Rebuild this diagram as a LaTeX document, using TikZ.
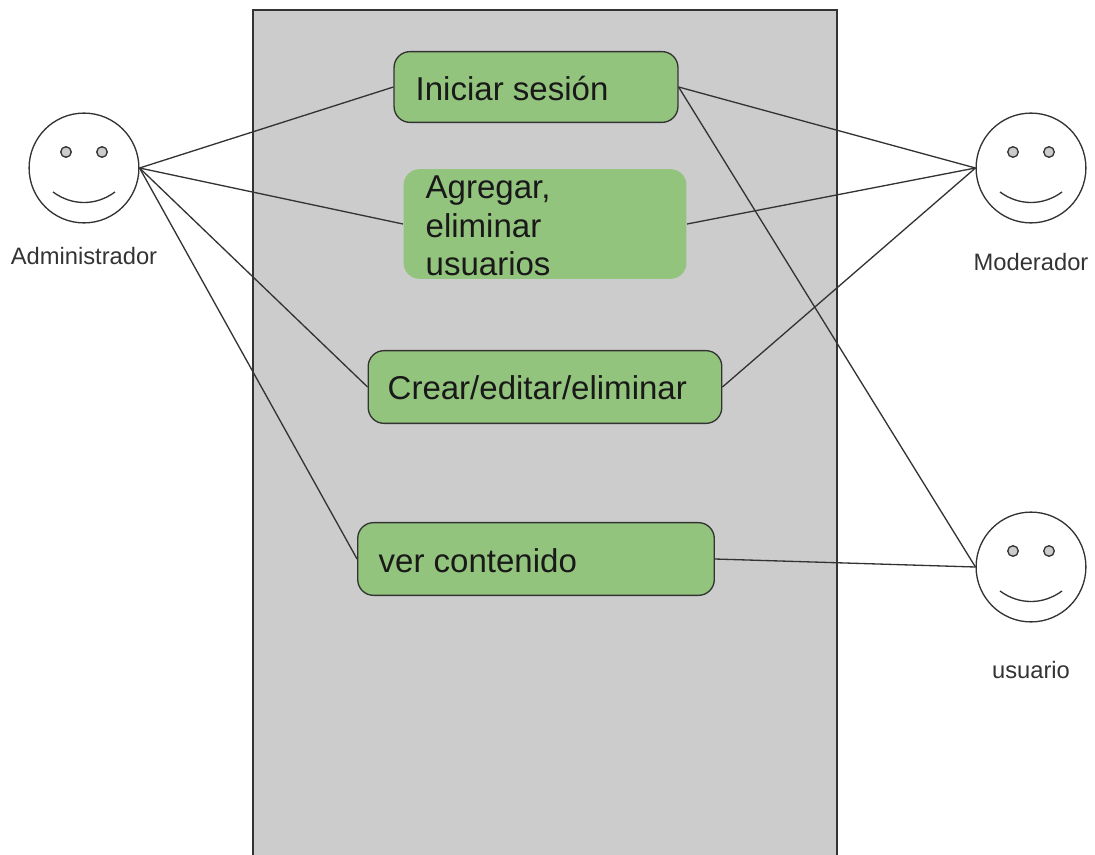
\documentclass[tikz,border=0pt]{standalone}
\usepackage{fontspec}
\setmainfont{Liberation Sans}
\definecolor{boxgreen}{HTML}{93C47D}
\definecolor{sysgray}{HTML}{CCCCCC}
\definecolor{eyegray}{HTML}{CCCCCC}
\definecolor{inkdark}{HTML}{333333}
\tikzset{
	usecase/.style={rectangle, rounded corners=9pt, draw=inkdark, fill=boxgreen, inner sep=0pt},
	caselabel/.style={font=\fontsize{18.8}{22}\selectfont, text=black!90, anchor=west, inner sep=0pt},
	face/.style={circle, draw=inkdark, fill=white, minimum size=62.5pt, inner sep=0pt},
	eye/.style={circle, draw=inkdark, fill=eyegray, minimum size=6pt, inner sep=0pt},
	actorname/.style={font=\fontsize{13.5}{16}\selectfont, text=black!80, inner sep=0pt},
	link/.style={draw=inkdark, line width=0.75pt}
}
\begin{document}
\begin{tikzpicture}[x=0.02cm,y=-0.02cm,line width=0.75pt]
\useasboundingbox (0,0) rectangle (1095,855);

% system
\fill[sysgray] (253,10) rectangle (837,855);
\draw[inkdark] (253,855) -- (253,10) -- (837,10) -- (837,855);

% use cases
\node[usecase, minimum width=285*0.5669pt, minimum height=71*0.5669pt] (login) at (536,87) {};
\node[usecase, draw=none, minimum width=284*0.5669pt, minimum height=110*0.5669pt] (users) at (545,224) {};
\node[usecase, minimum width=355*0.5669pt, minimum height=73*0.5669pt] (crud) at (545,387) {};
\node[usecase, minimum width=358*0.5669pt, minimum height=73*0.5669pt] (view) at (536,559) {};

\node[caselabel] (logintext) at (415,89) {Iniciar sesión};
\node[caselabel, align=left] (userstext) at (425,226) {Agregar,\\eliminar\\usuarios};
\node[caselabel] (crudtext) at (387,388) {Crear/editar/eliminar};
\node[caselabel] (viewtext) at (378,561) {ver contenido};

% actors
\node[face] (admin) at (84,168) {};
\node[face] (moder) at (1031,168) {};
\node[face] (user) at (1031,567) {};

\foreach \f/\x/\y in {a/84/168, b/1031/168, c/1031/567} {
	\node[eye] (eyel\f) at (\x-18,\y-16) {};
	\node[eye] (eyer\f) at (\x+18,\y-16) {};
	\draw[inkdark] (\x-31,\y+24) .. controls (\x-12,\y+38) and (\x+12,\y+38) .. (\x+31,\y+24);
}

\node[actorname] (adminname) at (84,256) {Administrador};
\node[actorname] (modername) at (1031,262) {Moderador};
\node[actorname] (username) at (1031,670) {usuario};

% links
\draw[link] (admin.east) -- (login.west);
\draw[link] (admin.east) -- (users.west);
\draw[link] (admin.east) -- (crud.west);
\draw[link] (admin.east) -- (view.west);
\draw[link] (moder.west) -- (login.east);
\draw[link] (moder.west) -- (users.east);
\draw[link] (moder.west) -- (crud.east);
\draw[link] (user.west) -- (login.east);
\draw[link] (user.west) -- (view.east);
\end{tikzpicture}
\end{document}
